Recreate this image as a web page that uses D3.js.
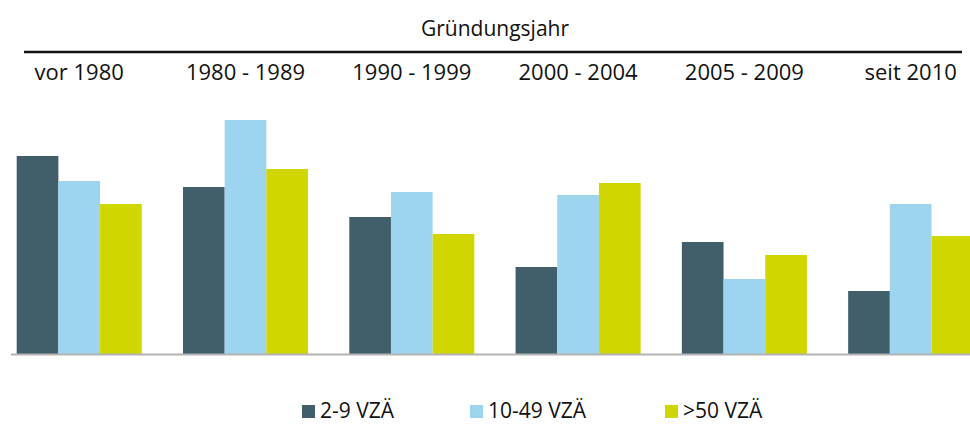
<!DOCTYPE html>
<html>
<head>
<meta charset="utf-8">
<script src="https://cdn.jsdelivr.net/npm/d3@7"></script>
<style>
  html, body { margin: 0; padding: 0; background: #fff; }
  svg { display: block; }
  text { font-family: "Open Sans", "Noto Sans", sans-serif; fill: #111; }
</style>
</head>
<body>
<svg id="chart" width="970" height="424"></svg>
<script>
// Founding-year periods (x categories)
const categories = ["vor 1980", "1980 - 1989", "1990 - 1999", "2000 - 2004", "2005 - 2009", "seit 2010"];

// Company-size classes (full-time equivalents)
const seriesNames = ["2-9 VZÄ", "10-49 VZÄ", ">50 VZÄ"];

// Share per size class and founding period (%)
const small  = [19.8, 16.7, 13.7,  8.7, 11.2,  6.3];
const medium = [17.3, 23.4, 16.2, 15.9,  7.5, 15.0];
const large  = [15.0, 18.5, 12.0, 17.1,  9.9, 11.8];

const colors = ["#415e6b", "#9dd4f0", "#d0d600"];

const seriesValues = [small, medium, large];
const rows = categories.map((c, i) => ({
  category: c,
  values: seriesNames.map((s, j) => ({ series: s, value: seriesValues[j][i], idx: j }))
}));

const svg = d3.select("#chart");

const baseY = 354;
const x0 = d3.scaleBand().domain(categories).range([16.7, 973.2]).paddingInner(0.248).paddingOuter(0);
const x1 = d3.scaleBand().domain(seriesNames).range([0, x0.bandwidth()]).padding(0);
const y = d3.scaleLinear().domain([0, 25]).range([baseY, 104]);

// Header: title, rule, period labels
svg.append("text")
  .attr("x", 495).attr("y", 36)
  .attr("text-anchor", "middle")
  .attr("font-size", 21)
  .text("Gründungsjahr");

svg.append("line")
  .attr("x1", 24).attr("x2", 962)
  .attr("y1", 52).attr("y2", 52)
  .attr("stroke", "#111").attr("stroke-width", 2.5);

svg.append("g").selectAll("text")
  .data(categories)
  .join("text")
  .attr("x", d => x0(d) + x0.bandwidth() / 2)
  .attr("y", 80)
  .attr("text-anchor", "middle")
  .attr("font-size", 22)
  .text(d => d);

// Bars
const groups = svg.append("g").selectAll("g")
  .data(rows)
  .join("g")
  .attr("transform", d => `translate(${x0(d.category)},0)`);

groups.selectAll("rect")
  .data(d => d.values)
  .join("rect")
  .attr("x", d => x1(d.series))
  .attr("width", x1.bandwidth())
  .attr("y", d => y(d.value))
  .attr("height", d => y(0) - y(d.value))
  .attr("fill", d => colors[d.idx]);

// Baseline
svg.append("line")
  .attr("x1", 11).attr("x2", 970)
  .attr("y1", baseY + 0.5).attr("y2", baseY + 0.5)
  .attr("stroke", "#b3b3b3").attr("stroke-width", 2);

// Legend
const legendX = [302, 470, 665];
const legend = svg.append("g").selectAll("g")
  .data(seriesNames)
  .join("g")
  .attr("transform", (d, i) => `translate(${legendX[i]},0)`);

legend.append("rect")
  .attr("x", 0).attr("y", 405)
  .attr("width", 13).attr("height", 13)
  .attr("fill", (d, i) => colors[i]);

legend.append("text")
  .attr("x", 18).attr("y", 418)
  .attr("font-size", 21)
  .text(d => d);
</script>
</body>
</html>
